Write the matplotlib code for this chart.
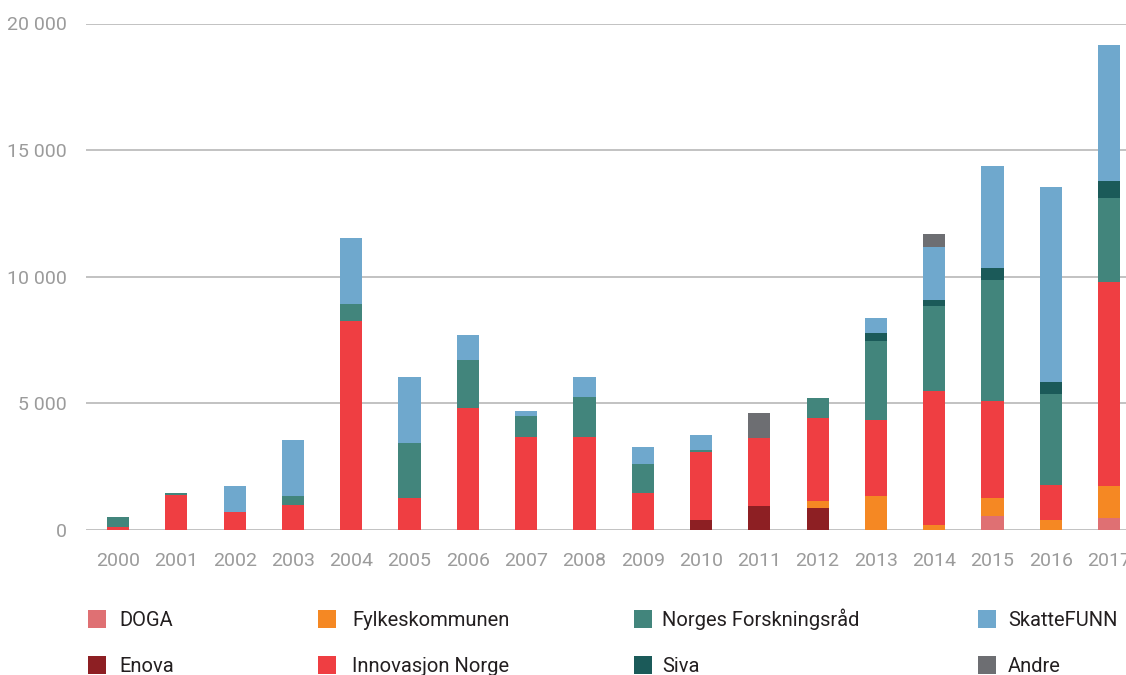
import matplotlib.pyplot as plt
from matplotlib.patches import Rectangle
import numpy as np

plt.rcParams['font.family'] = ['Roboto', 'DejaVu Sans']

years = [str(y) for y in range(2000, 2018)]

# verdier per kilde (stablet nedenfra)
doga = [0, 0, 0, 0, 0, 0, 0, 0, 0, 0, 0, 0, 0, 0, 0, 550, 0, 485]
enova = [0, 0, 0, 0, 0, 0, 0, 0, 0, 0, 400, 950, 870, 0, 0, 0, 0, 0]
fylke = [0, 0, 0, 0, 0, 0, 0, 0, 0, 0, 0, 0, 275, 1340, 200, 715, 395, 1255]
innovasjon = [100, 1380, 710, 990, 8250, 1280, 4830, 3680, 3680, 1460,
              2690, 2700, 3290, 3020, 5290, 3830, 1385, 8070]
nfr = [420, 80, 0, 350, 670, 2160, 1890, 820, 1570, 1140,
       70, 0, 780, 3105, 3360, 4780, 3590, 3305]
siva = [0, 0, 0, 0, 0, 0, 0, 0, 0, 0, 0, 0, 0, 315, 235, 475, 475, 670]
skattefunn = [0, 0, 1030, 2215, 2610, 2600, 980, 200, 790, 680,
              590, 0, 0, 595, 2095, 4030, 7705, 5375]
andre = [0, 0, 0, 0, 0, 0, 0, 0, 0, 0, 0, 975, 0, 0, 510, 0, 0, 0]

series = [
    ('DOGA', doga, '#df7073'),
    ('Enova', enova, '#8d1f23'),
    ('Fylkeskommunen', fylke, '#f58823'),
    ('Innovasjon Norge', innovasjon, '#ef3e42'),
    ('Norges Forskningsråd', nfr, '#42857c'),
    ('Siva', siva, '#1b5a59'),
    ('SkatteFUNN', skattefunn, '#6fa8cd'),
    ('Andre', andre, '#6d6e72'),
]

W, H = 1126, 675
fig = plt.figure(figsize=(W / 100, H / 100), dpi=100)
ax = fig.add_axes([86 / W, 1 - 530 / H, 1 - 86 / W, (530 - 23.5) / H])

x = np.arange(len(years))
bottom = np.zeros(len(years))
for name, vals, col in series:
    v = np.array(vals, dtype=float)
    ax.bar(x, v, 0.38, bottom=bottom, color=col, linewidth=0, zorder=3)
    bottom += v

ax.set_xlim(-0.55, 17.29)
ax.set_ylim(0, 20000)
ax.set_yticks([0, 5000, 10000, 15000, 20000])
ax.set_yticklabels(['0', '5 000', '10 000', '15 000', '20 000'])
ax.set_xticks(x)
ax.set_xticklabels(years)
ax.grid(axis='y', color='#b8b8b8', linewidth=1.2, zorder=0)
ax.grid(axis='x', visible=False)
for s in ax.spines.values():
    s.set_visible(False)
ax.tick_params(length=0, labelsize=14, colors='#9b9b9b')
ax.tick_params(axis='y', pad=14)
ax.tick_params(axis='x', pad=16)
ax.set_facecolor('white')

# legende
sw_x = [88, 318, 634, 978]
tx_x = [119, 352, 662, 1008]
rows_y = [619, 665]
for i, (name, vals, col) in enumerate(series):
    c, r = i // 2, i % 2
    fig.add_artist(Rectangle((sw_x[c] / W, 1 - (rows_y[r] + 9) / H), 18 / W, 18 / H,
                             transform=fig.transFigure, color=col, linewidth=0))
    fig.text(tx_x[c] / W, 1 - (rows_y[r] + 7) / H, name, fontsize=14.5, color='#231f20',
             va='baseline', ha='left')

fig.savefig('out.png', dpi=100)
